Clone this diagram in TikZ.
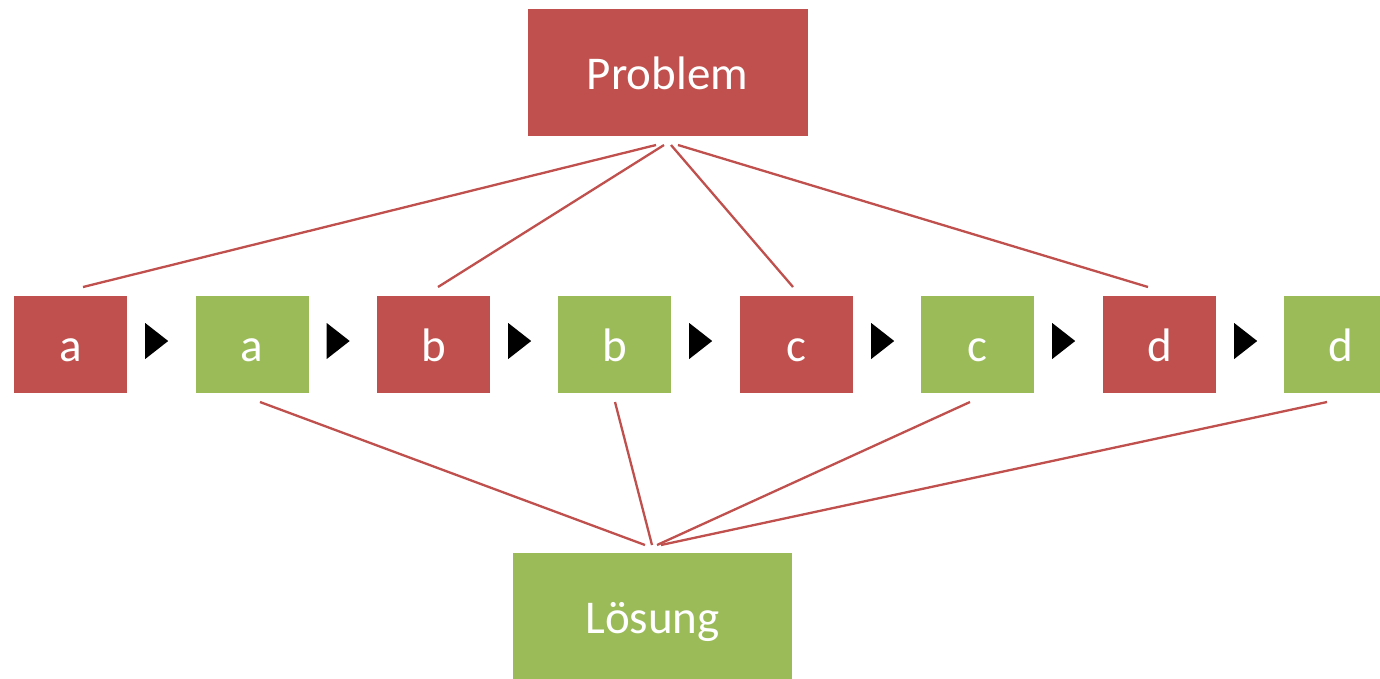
\documentclass[tikz,border=0pt]{standalone}
\usepackage{fontspec}
\setmainfont{Carlito}
\usetikzlibrary{calc}
\definecolor{boxred}{HTML}{C0504D}
\definecolor{boxgreen}{HTML}{9BBB59}
\tikzset{
  box/.style={rectangle, inner sep=0pt, text=white, font=\fontsize{47}{51}\selectfont,
    text height=40pt, text depth=6pt},
  small/.style={box, minimum width=113pt, minimum height=97pt},
  big/.style={box, minimum width=280pt, minimum height=127pt},
  redbox/.style={fill=boxred},
  greenbox/.style={fill=boxgreen},
  link/.style={draw=boxred, line width=2.3pt},
  tri/.style={fill=black},
}
\begin{document}
\begin{tikzpicture}[x=1pt,y=1pt]
\clip (0,0) rectangle (1380,-678);
\fill[white] (0,0) rectangle (1380,-678);
\node[big,redbox] (prob) at (667.5,-72.5) {Problem};
\node[big,greenbox,minimum width=279pt] (loes) at (652.5,-616.5) {Lösung};
\node[small,redbox]   (ra) at (70.5,-344.5) {a};
\node[small,greenbox] (ga) at (252,-344.5) {a};
\node[small,redbox]   (rb) at (433.5,-344.5) {b};
\node[small,greenbox] (gb) at (614.5,-344.5) {b};
\node[small,redbox]   (rc) at (796.5,-344.5) {c};
\node[small,greenbox] (gc) at (977.5,-344.5) {c};
\node[small,redbox]   (rd) at (1159.5,-344.5) {d};
\node[small,greenbox] (gd) at (1340.5,-344.5) {d};
% triangles between boxes
\foreach \n in {ra,ga,rb,gb,rc,gc,rd}{
  \fill[tri] ($(\n.east)+(18,21.5)$) -- ++(23,-18) -- ++(-23,-18) -- cycle;
}
% connector end points
\coordinate (p1) at (656,-145);
\coordinate (p2) at (664,-145);
\coordinate (p3) at (671,-145);
\coordinate (p4) at (678,-145);
\coordinate (ta) at (83,-287);
\coordinate (tb) at (438,-287);
\coordinate (tc) at (793,-287);
\coordinate (td) at (1148,-287);
\coordinate (ba) at (260,-402);
\coordinate (bb) at (615,-402);
\coordinate (bc) at (970,-402);
\coordinate (bd) at (1327,-402);
\coordinate (l1) at (645,-545);
\coordinate (l2) at (652,-545);
\coordinate (l3) at (657,-545);
\coordinate (l4) at (661,-545);
\draw[link] (p1) -- (ta);
\draw[link] (p2) -- (tb);
\draw[link] (p3) -- (tc);
\draw[link] (p4) -- (td);
\draw[link] (ba) -- (l1);
\draw[link] (bb) -- (l2);
\draw[link] (bc) -- (l3);
\draw[link] (bd) -- (l4);
\end{tikzpicture}
\end{document}
